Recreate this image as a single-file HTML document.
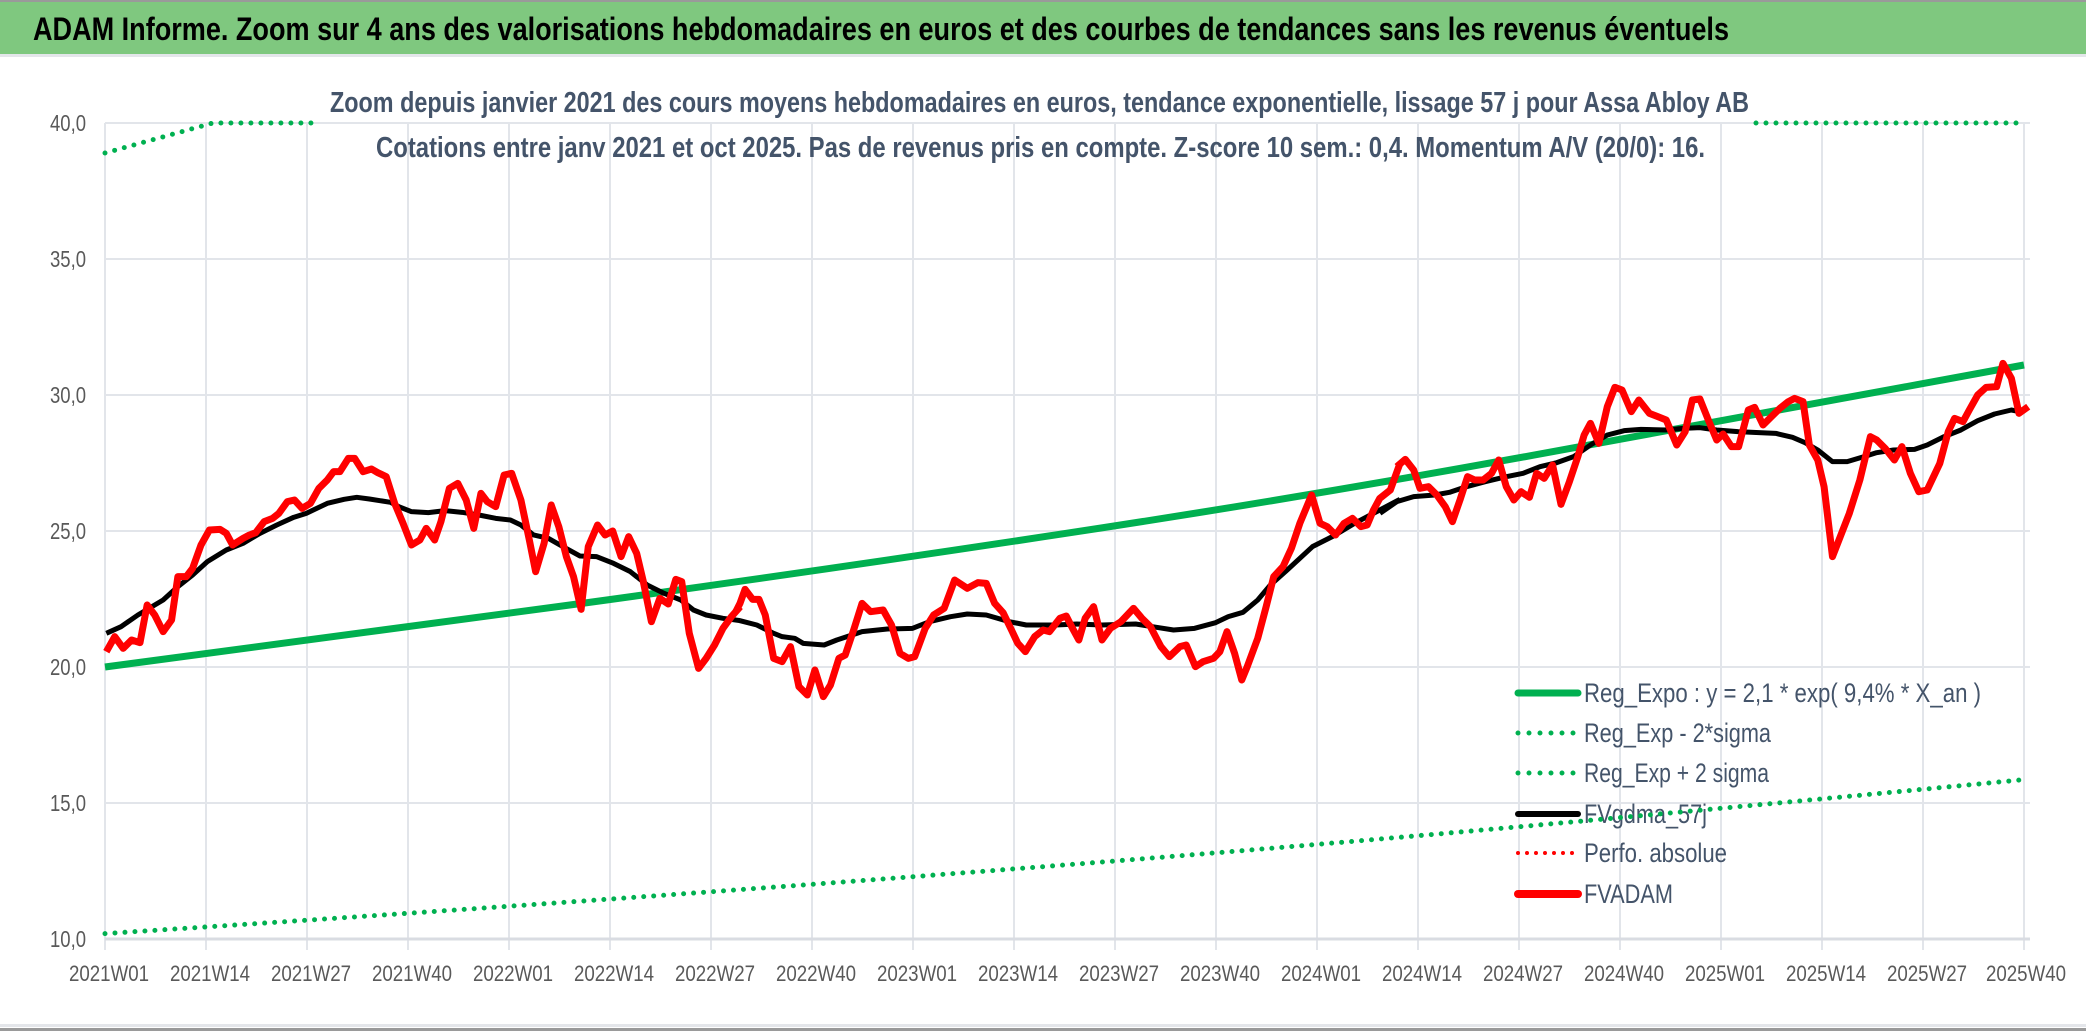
<!DOCTYPE html>
<html><head><meta charset="utf-8"><style>
html,body{margin:0;padding:0;background:#fff;}
svg{display:block;}
text{font-family:"Liberation Sans Narrow","Liberation Sans",sans-serif;}
</style></head><body>
<svg width="2086" height="1031" viewBox="0 0 2086 1031" xmlns="http://www.w3.org/2000/svg">
<rect x="0" y="0" width="2086" height="1031" fill="#fff"/>
<rect x="0" y="0" width="2086" height="54" fill="#7fc87f"/>
<rect x="0" y="0" width="2086" height="2" fill="#9a9a9a"/>
<rect x="0" y="54" width="2086" height="3" fill="#e4e6ea"/>
<rect x="0" y="1024" width="2086" height="3" fill="#e4e6ea"/>
<rect x="0" y="1028" width="2086" height="3" fill="#9a9a9a"/>
<text x="33" y="40" font-size="32" font-weight="bold" fill="#000" textLength="1696" lengthAdjust="spacingAndGlyphs">ADAM Informe. Zoom sur 4 ans des valorisations hebdomadaires en euros et des courbes de tendances sans les revenus éventuels</text>

<g stroke="#e2e5ea" stroke-width="2">
<line x1="105" y1="123" x2="2030" y2="123"/>
<line x1="105" y1="259" x2="2030" y2="259"/>
<line x1="105" y1="395" x2="2030" y2="395"/>
<line x1="105" y1="531" x2="2030" y2="531"/>
<line x1="105" y1="667" x2="2030" y2="667"/>
<line x1="105" y1="803" x2="2030" y2="803"/>
<line x1="105" y1="123" x2="105" y2="950"/><line x1="206" y1="123" x2="206" y2="950"/><line x1="307" y1="123" x2="307" y2="950"/><line x1="408" y1="123" x2="408" y2="950"/><line x1="509" y1="123" x2="509" y2="950"/><line x1="610" y1="123" x2="610" y2="950"/><line x1="711" y1="123" x2="711" y2="950"/><line x1="812" y1="123" x2="812" y2="950"/><line x1="913" y1="123" x2="913" y2="950"/><line x1="1014" y1="123" x2="1014" y2="950"/><line x1="1115" y1="123" x2="1115" y2="950"/><line x1="1216" y1="123" x2="1216" y2="950"/><line x1="1317" y1="123" x2="1317" y2="950"/><line x1="1418" y1="123" x2="1418" y2="950"/><line x1="1519" y1="123" x2="1519" y2="950"/><line x1="1620" y1="123" x2="1620" y2="950"/><line x1="1721" y1="123" x2="1721" y2="950"/><line x1="1822" y1="123" x2="1822" y2="950"/><line x1="1923" y1="123" x2="1923" y2="950"/><line x1="2024" y1="123" x2="2024" y2="950"/>
</g>
<line x1="105" y1="939" x2="2030" y2="939" stroke="#d9dce2" stroke-width="3"/>

<g font-size="23" fill="#595959">
<text x="50" y="131" textLength="36" lengthAdjust="spacingAndGlyphs">40,0</text><text x="50" y="267" textLength="36" lengthAdjust="spacingAndGlyphs">35,0</text><text x="50" y="403" textLength="36" lengthAdjust="spacingAndGlyphs">30,0</text><text x="50" y="539" textLength="36" lengthAdjust="spacingAndGlyphs">25,0</text><text x="50" y="675" textLength="36" lengthAdjust="spacingAndGlyphs">20,0</text><text x="50" y="811" textLength="36" lengthAdjust="spacingAndGlyphs">15,0</text><text x="50" y="947" textLength="36" lengthAdjust="spacingAndGlyphs">10,0</text>
</g>
<g font-size="22" fill="#595959">
<text x="69" y="981" textLength="80" lengthAdjust="spacingAndGlyphs">2021W01</text><text x="170" y="981" textLength="80" lengthAdjust="spacingAndGlyphs">2021W14</text><text x="271" y="981" textLength="80" lengthAdjust="spacingAndGlyphs">2021W27</text><text x="372" y="981" textLength="80" lengthAdjust="spacingAndGlyphs">2021W40</text><text x="473" y="981" textLength="80" lengthAdjust="spacingAndGlyphs">2022W01</text><text x="574" y="981" textLength="80" lengthAdjust="spacingAndGlyphs">2022W14</text><text x="675" y="981" textLength="80" lengthAdjust="spacingAndGlyphs">2022W27</text><text x="776" y="981" textLength="80" lengthAdjust="spacingAndGlyphs">2022W40</text><text x="877" y="981" textLength="80" lengthAdjust="spacingAndGlyphs">2023W01</text><text x="978" y="981" textLength="80" lengthAdjust="spacingAndGlyphs">2023W14</text><text x="1079" y="981" textLength="80" lengthAdjust="spacingAndGlyphs">2023W27</text><text x="1180" y="981" textLength="80" lengthAdjust="spacingAndGlyphs">2023W40</text><text x="1281" y="981" textLength="80" lengthAdjust="spacingAndGlyphs">2024W01</text><text x="1382" y="981" textLength="80" lengthAdjust="spacingAndGlyphs">2024W14</text><text x="1483" y="981" textLength="80" lengthAdjust="spacingAndGlyphs">2024W27</text><text x="1584" y="981" textLength="80" lengthAdjust="spacingAndGlyphs">2024W40</text><text x="1685" y="981" textLength="80" lengthAdjust="spacingAndGlyphs">2025W01</text><text x="1786" y="981" textLength="80" lengthAdjust="spacingAndGlyphs">2025W14</text><text x="1887" y="981" textLength="80" lengthAdjust="spacingAndGlyphs">2025W27</text><text x="1986" y="981" textLength="80" lengthAdjust="spacingAndGlyphs">2025W40</text>
</g>

<text x="330" y="112" font-size="29" font-weight="bold" fill="#44546a" textLength="1419" lengthAdjust="spacingAndGlyphs">Zoom depuis janvier 2021 des cours moyens hebdomadaires en euros, tendance exponentielle, lissage 57 j pour Assa Abloy AB</text>
<text x="376" y="157" font-size="29" font-weight="bold" fill="#44546a" textLength="1329" lengthAdjust="spacingAndGlyphs">Cotations entre janv 2021 et oct 2025. Pas de revenus pris en compte. Z-score 10 sem.: 0,4. Momentum A/V (20/0): 16.</text>

<g font-size="27" fill="#44546a">
<line x1="1518" y1="693" x2="1578" y2="693" stroke="#00b050" stroke-width="7" stroke-linecap="round"/>
<text x="1584" y="702" textLength="397" lengthAdjust="spacingAndGlyphs">Reg_Expo : y = 2,1 * exp( 9,4% *  X_an )</text>
<line x1="1518" y1="733" x2="1578" y2="733" stroke="#00b050" stroke-width="5" stroke-linecap="round" stroke-dasharray="0 11"/>
<text x="1584" y="742" textLength="187" lengthAdjust="spacingAndGlyphs">Reg_Exp - 2*sigma</text>
<line x1="1518" y1="773" x2="1578" y2="773" stroke="#00b050" stroke-width="5" stroke-linecap="round" stroke-dasharray="0 11"/>
<text x="1584" y="782" textLength="185" lengthAdjust="spacingAndGlyphs">Reg_Exp + 2 sigma</text>
<line x1="1518" y1="814" x2="1578" y2="814" stroke="#000" stroke-width="6" stroke-linecap="round"/>
<text x="1584" y="823" textLength="123" lengthAdjust="spacingAndGlyphs">FVgdma_57j</text>
<line x1="1518" y1="853" x2="1578" y2="853" stroke="#f00" stroke-width="4" stroke-linecap="round" stroke-dasharray="0 9"/>
<text x="1584" y="862" textLength="143" lengthAdjust="spacingAndGlyphs">Perfo. absolue</text>
<line x1="1518" y1="894" x2="1578" y2="894" stroke="#f00" stroke-width="8" stroke-linecap="round"/>
<text x="1584" y="903" textLength="89" lengthAdjust="spacingAndGlyphs">FVADAM</text>
</g>

<g fill="none" stroke="#00b050" stroke-width="5" stroke-linecap="round" stroke-dasharray="0 10">
<path d="M105,933.6 Q345,918 584.75,900.9 T1064.5,865 T1544.25,824.5 T2024,779.6"/>
<path d="M105,153 L213,123 L320,123"/>
<path d="M1756,123 L2024,123"/>
</g>
<path d="M105,667 Q345,636 584.75,603 T1064.5,533.6 T1544.25,453.2 T2024,365" fill="none" stroke="#00b050" stroke-width="7"/>

<g fill="none" stroke="#000" stroke-width="5" stroke-linejoin="round">
<g transform="translate(100,300) scale(0.42092,0.33333)">
<polyline vector-effect="non-scaling-stroke" points="15,1000 50,980 90,945 150,900 185,860 220,825 255,785 300,750 340,730 380,700 420,675 460,652 490,640 540,610 580,598 610,592 640,597 690,607 710,620 740,635 780,638 820,632 860,637 900,645 940,655 975,660 1000,675 1030,705 1065,715 1100,740 1140,768 1180,770 1220,790 1260,815 1300,855 1340,880 1380,900 1410,930 1440,945 1480,955 1521,962"/>
</g>
<g transform="translate(740,300) scale(0.42092,0.33333)">
<polyline vector-effect="non-scaling-stroke" points="0,962 40,975 80,1000 100,1010 130,1015 150,1030 200,1035 230,1020 290,995 350,987 410,985 450,965 500,950 540,942 585,945 640,965 680,975 750,975 800,972 860,975 940,972 980,980 1030,990 1080,985 1130,968 1160,950 1195,937 1230,900 1260,855 1300,810 1360,740 1410,708 1460,670 1520,630 1568,598"/>
</g>
<g transform="translate(1380,300) scale(0.42092,0.33333)">
<polyline vector-effect="non-scaling-stroke" points="0,640 40,605 80,590 130,585 165,577 200,562 250,545 300,530 340,520 380,500 420,488 460,470 500,435 540,405 580,392 620,388 680,390 720,385 760,383 800,390 850,395 900,398 940,400 980,412 1010,428 1040,450 1075,485 1110,485 1150,470 1180,458 1220,450 1270,448 1300,435 1340,410 1380,390 1420,362 1460,342 1500,330 1520,335"/>
</g>
</g>

<g fill="none" stroke="#f00" stroke-width="7" stroke-linejoin="round">
<g transform="translate(100,300) scale(0.42092,0.33333)">
<polyline vector-effect="non-scaling-stroke" points="15,1055 35,1010 55,1045 75,1020 95,1028 112,915 130,945 150,995 170,960 185,830 205,830 220,805 240,735 260,690 285,688 300,700 315,735 340,715 355,705 370,698 390,665 410,655 425,640 445,605 462,600 480,625 500,610 520,565 540,540 555,515 570,515 590,475 605,475 625,515 645,507 660,518 680,530 700,610 720,670 740,735 760,720 775,685 795,720 810,665 830,565 850,550 870,600 888,685 905,580 920,605 940,620 960,525 978,520 1000,600 1020,720 1035,815 1055,730 1072,615 1090,680 1108,770 1125,830 1143,928 1160,740 1182,675 1200,705 1218,693 1238,770 1256,710 1275,760 1290,840 1310,965 1330,895 1350,912 1368,838 1382,845 1400,1000 1422,1105 1440,1075 1460,1035 1480,985 1500,950 1521,920"/>
</g>
<g transform="translate(740,300) scale(0.42092,0.33333)">
<polyline vector-effect="non-scaling-stroke" points="-10,935 0,910 12,868 30,898 45,898 60,945 80,1075 100,1085 120,1040 140,1160 160,1185 178,1110 198,1190 215,1155 235,1075 250,1065 270,990 290,910 310,935 340,930 360,975 380,1060 400,1075 415,1070 440,985 460,945 485,925 510,840 540,865 565,848 585,850 605,910 625,938 645,990 660,1030 678,1055 700,1010 720,990 735,995 760,955 775,948 790,985 805,1020 820,955 840,920 860,1020 880,985 905,965 935,925 955,955 975,980 1000,1040 1020,1070 1045,1040 1060,1035 1082,1100 1100,1085 1125,1075 1140,1055 1157,995 1175,1060 1192,1140 1205,1100 1230,1015 1250,920 1268,830 1290,800 1310,745 1330,670 1358,585 1378,670 1395,680 1415,705 1435,670 1455,655 1475,680 1490,675 1505,630 1520,595 1545,570 1568,490"/>
</g>
<g transform="translate(1380,300) scale(0.42092,0.33333)">
<polyline vector-effect="non-scaling-stroke" points="40,500 60,478 80,510 95,565 115,560 135,585 155,620 172,665 190,600 208,530 225,540 245,540 265,520 282,480 300,560 318,600 335,575 355,592 372,520 390,535 410,495 430,613 450,545 470,470 485,405 500,370 520,430 540,320 558,262 575,270 597,335 615,300 640,340 660,350 680,360 705,435 725,395 742,300 760,297 780,360 800,420 815,402 835,440 852,440 875,330 890,322 910,375 930,350 950,325 970,305 985,295 1005,305 1020,435 1040,480 1055,560 1075,770 1095,705 1115,640 1140,540 1165,410 1180,420 1200,445 1222,480 1240,440 1260,520 1280,575 1300,570 1330,490 1350,395 1365,355 1385,365 1400,330 1420,285 1440,262 1465,260 1480,190 1500,235 1518,340 1540,320"/>
</g>
</g>
</svg>
</body></html>
